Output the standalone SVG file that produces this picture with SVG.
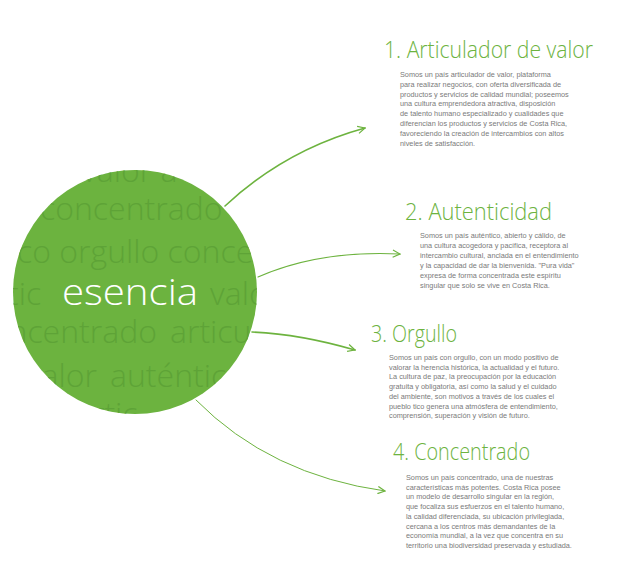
<svg xmlns="http://www.w3.org/2000/svg" width="635" height="567" viewBox="0 0 635 567">
<style>
.wm{font-family:"Open Sans","Liberation Sans",sans-serif;font-weight:300;font-size:32px;fill:#5ea337}
.title{font-family:"Open Sans","Liberation Sans",sans-serif;font-weight:300;font-size:24px;fill:#6db33f}
.body{font-family:"Liberation Sans","Open Sans",sans-serif;font-size:7.3px;fill:#7a7a7a}
.conn{fill:none;stroke:#6db33f;stroke-linecap:round}
</style>
<defs>
<clipPath id="cc"><circle cx="135" cy="292" r="122"/></clipPath>
<marker id="ah" viewBox="0 0 10 10" refX="9" refY="5" markerWidth="9" markerHeight="9" markerUnits="userSpaceOnUse" orient="auto">
<path d="M1,1 L9,5 L1,9" fill="none" stroke="#6db33f" stroke-width="1.3"/>
</marker>
</defs>
<rect width="635" height="567" fill="#ffffff"/>
<g id="esencia">
<circle cx="135" cy="292" r="122" fill="#6cb33f"/>
<g clip-path="url(#cc)" class="wm">
<text x="82" y="182">valor a</text>
<text x="40" y="220">concentrado</text>
<text x="17" y="263">co orgullo concen</text>
<text x="8" y="305">tic</text><text x="210" y="305">valor</text>
<text x="157" y="343" text-anchor="end">ncentrado</text><text x="170" y="343">articu</text>
<text x="97" y="387" text-anchor="end">valor</text><text x="110" y="387">auténtico</text>
<text x="75" y="425">artic</text>
</g>
<text x="62" y="305" font-family="Open Sans, Liberation Sans, sans-serif" font-weight="300" font-size="36" fill="#ffffff" textLength="136" lengthAdjust="spacingAndGlyphs">esencia</text>
</g>
<g id="connectors">
<path class="conn" d="M225,206 Q285,150 365,128" stroke-width="1.6" marker-end="url(#ah)"/>
<path class="conn" d="M258,277 Q320,250 400,254" stroke-width="1.2" marker-end="url(#ah)"/>
<path class="conn" d="M252,332 Q300,334 355,350" stroke-width="1.6" marker-end="url(#ah)"/>
<path class="conn" d="M196,400 Q270,475 385,491" stroke-width="1" marker-end="url(#ah)"/>
</g>
<g id="n1">
<text class="title" x="384" y="58" textLength="209" lengthAdjust="spacingAndGlyphs">1. Articulador de valor</text>
<g class="body">
<text x="400" y="77">Somos un país articulador de valor, plataforma</text>
<text x="400" y="86.8">para realizar negocios, con oferta diversificada de</text>
<text x="400" y="96.6">productos y servicios de calidad mundial; poseemos</text>
<text x="400" y="106.4">una cultura emprendedora atractiva, disposición</text>
<text x="400" y="116.2">de talento humano especializado y cualidades que</text>
<text x="400" y="126">diferencian los productos y servicios de Costa Rica,</text>
<text x="400" y="135.8">favoreciendo la creación de intercambios con altos</text>
<text x="400" y="145.6">niveles de satisfacción.</text>
</g>
</g>
<g id="n2">
<text class="title" x="405" y="220" textLength="147" lengthAdjust="spacingAndGlyphs">2. Autenticidad</text>
<g class="body">
<text x="420" y="237.5">Somos un país auténtico, abierto y cálido, de</text>
<text x="420" y="247.5">una cultura acogedora y pacífica, receptora al</text>
<text x="420" y="257.5">intercambio cultural, anclada en el entendimiento</text>
<text x="420" y="267.5">y la capacidad de dar la bienvenida. "Pura vida"</text>
<text x="420" y="277.5">expresa de forma concentrada este espíritu</text>
<text x="420" y="287.5">singular que solo se vive en Costa Rica.</text>
</g>
</g>
<g id="n3">
<text class="title" x="371" y="342" textLength="86" lengthAdjust="spacingAndGlyphs">3. Orgullo</text>
<g class="body">
<text x="389" y="360">Somos un país con orgullo, con un modo positivo de</text>
<text x="389" y="369.7">valorar la herencia histórica, la actualidad y el futuro.</text>
<text x="389" y="379.4">La cultura de paz, la preocupación por la educación</text>
<text x="389" y="389.1">gratuita y obligatoria, así como la salud y el cuidado</text>
<text x="389" y="398.8">del ambiente, son motivos a través de los cuales el</text>
<text x="389" y="408.5">pueblo tico genera una atmósfera de entendimiento,</text>
<text x="389" y="418.2">comprensión, superación y visión de futuro.</text>
</g>
</g>
<g id="n4">
<text class="title" x="393" y="460" textLength="137" lengthAdjust="spacingAndGlyphs">4. Concentrado</text>
<g class="body">
<text x="406" y="480">Somos un país concentrado, una de nuestras</text>
<text x="406" y="489.7">características más potentes. Costa Rica posee</text>
<text x="406" y="499.4">un modelo de desarrollo singular en la región,</text>
<text x="406" y="509.1">que focaliza sus esfuerzos en el talento humano,</text>
<text x="406" y="518.8">la calidad diferenciada, su ubicación privilegiada,</text>
<text x="406" y="528.5">cercana a los centros más demandantes de la</text>
<text x="406" y="538.2">economía mundial, a la vez que concentra en su</text>
<text x="406" y="547.9">territorio una biodiversidad preservada y estudiada.</text>
</g>
</g>
</svg>
